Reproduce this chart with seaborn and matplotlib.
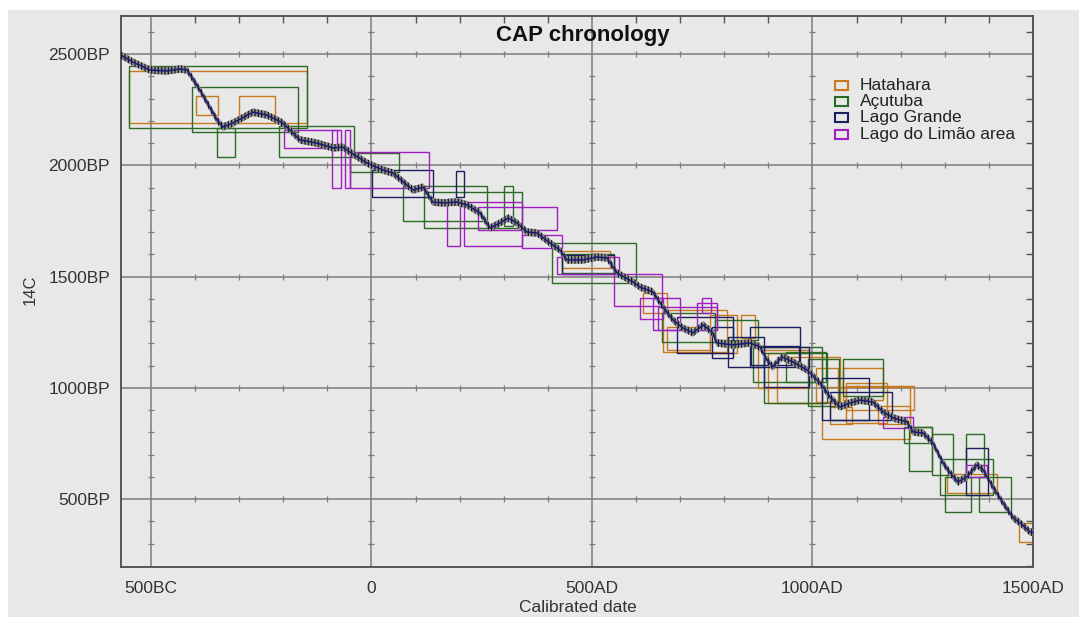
import matplotlib
matplotlib.use("Agg")
import matplotlib.pyplot as plt
from matplotlib.patches import Rectangle
from matplotlib.ticker import MultipleLocator
import numpy as np
import pandas as pd
import seaborn as sns

# ---------------- data ----------------
# calibration curve (calendar year, 14C BP)
curve_year = [-568, -541, -502, -464, -434, -418, -389, -350, -337, -314, -269, -237, -201,
              -162, -124, -87, -65, -49, -10, 26, 49, 80, 94, 117, 139, 162, 194, 217, 246,
              269, 291, 310, 330, 353, 375, 405, 427, 443, 480, 511, 534, 557, 593, 609, 638,
              661, 684, 706, 729, 752, 774, 783, 820, 858, 881, 897, 910, 931, 956, 988, 1017,
              1040, 1062, 1085, 1108, 1137, 1160, 1183, 1214, 1228, 1251, 1273, 1296, 1312,
              1330, 1350, 1373, 1387, 1409, 1432, 1455, 1471, 1493, 1500]
curve_bp = [2495, 2464, 2428, 2424, 2433, 2428, 2338, 2203, 2172, 2190, 2239, 2226, 2190,
            2114, 2100, 2078, 2082, 2060, 2010, 1979, 1965, 1912, 1889, 1902, 1835, 1831, 1835,
            1822, 1786, 1718, 1741, 1763, 1741, 1700, 1696, 1651, 1620, 1575, 1575, 1588, 1584,
            1516, 1476, 1453, 1431, 1363, 1305, 1269, 1247, 1283, 1247, 1202, 1193, 1202, 1184,
            1125, 1094, 1139, 1116, 1080, 1022, 959, 914, 932, 945, 936, 892, 865, 847, 802,
            797, 752, 663, 618, 577, 600, 654, 631, 555, 483, 416, 393, 353, 350]
curve_err = 17

# Hatahara boxes: calibrated range (start, end) x 14C range (low, high)
hat_start = [-549, -398, -300, 431, 616, 662, 669, 768, 839, 877, 919, 900, 1009, 1070, 1021,
             1077, 1040, 1149, 1077, 1304, 1469]
hat_end = [-147, -349, -218, 541, 669, 805, 768, 828, 870, 991, 1062, 1021, 1058, 1159, 1220,
           1168, 1089, 1220, 1230, 1419, 1500]
hat_low = [2189, 2226, 2226, 1537, 1335, 1163, 1170, 1155, 1223, 998, 931, 934, 938, 946, 769,
           841, 838, 838, 901, 527, 306]
hat_high = [2425, 2310, 2310, 1616, 1425, 1350, 1275, 1328, 1328, 1170, 1140, 1155, 1088, 1088,
            1003, 1021, 916, 919, 1008, 613, 394]

# Açutuba boxes
acu_start = [-549, -408, -350, -209, -49, 72, 120, 301, 410, 431, 658, 779, 866, 889, 940, 990,
             1070, 1208, 1219, 1270, 1348, 1289, 1301, 1378]
acu_end = [-147, -167, -309, -39, 62, 261, 342, 322, 599, 551, 779, 877, 1021, 1032, 1031, 1061,
           1159, 1270, 1270, 1318, 1389, 1409, 1359, 1449]
acu_low = [2169, 2148, 2039, 2039, 1971, 1750, 1717, 1727, 1470, 1516, 1208, 1215, 1028, 931,
           1028, 919, 964, 751, 627, 609, 601, 519, 440, 440]
acu_high = [2447, 2350, 2169, 2178, 2054, 1908, 1879, 1907, 1650, 1600, 1335, 1305, 1185, 1155,
            1163, 1128, 1128, 826, 826, 792, 792, 679, 601, 598]

# Lago Grande boxes
lgr_start = [2, 191, 431, 692, 771, 809, 858, 889, 861, 1021, 1040, 1348]
lgr_end = [140, 210, 551, 820, 820, 889, 972, 991, 970, 1127, 1180, 1399]
lgr_low = [1859, 1859, 1512, 1155, 1133, 1095, 1095, 1006, 1103, 856, 856, 519]
lgr_high = [1979, 1976, 1597, 1320, 1275, 1230, 1275, 1185, 1188, 1043, 983, 728]

# Lago do Limão area boxes
lim_start = [-198, -90, -59, -49, 171, 210, 241, 342, 420, 551, 609, 639, 650, 750, 737, 1159,
             1349]
lim_end = [-79, -69, -49, 130, 201, 342, 420, 431, 562, 659, 660, 700, 783, 770, 783, 1229, 1396]
lim_low = [2079, 1897, 1897, 1899, 1637, 1637, 1709, 1630, 1512, 1368, 1308, 1260, 1260, 1335,
           1260, 818, 601]
lim_high = [2159, 2159, 2159, 2058, 1849, 1837, 1814, 1687, 1590, 1512, 1405, 1405, 1365, 1405,
            1383, 871, 654]

site_names = ["Hatahara", "Açutuba", "Lago Grande", "Lago do Limão area"]
site_colors = ["#c8781e", "#2b6b25", "#1d2060", "#a01ec0"]

x_ticks = [-500, 0, 500, 1000, 1500]
x_labels = ["500BC", "0", "500AD", "1000AD", "1500AD"]
y_ticks = [500, 1000, 1500, 2000, 2500]
y_labels = ["500BP", "1000BP", "1500BP", "2000BP", "2500BP"]

# ---------------- style ----------------
sns.set_theme(style="white")
plt.rcParams['font.family'] = ['Liberation Sans', 'DejaVu Sans']
plt.rcParams['hatch.linewidth'] = 0.8
plt.rcParams['hatch.color'] = '#111111'

BG = "#e8e8e8"
GRID = "#7c7c7c"
W, H = 1079, 617

fig = plt.figure(figsize=(W / 100, H / 100), dpi=100, facecolor="white")
fig.patches.append(Rectangle((8 / W, 0), 1, 1 - 10 / H, transform=fig.transFigure,
                             facecolor=BG, edgecolor="none", zorder=-10))
ax = fig.add_axes([121 / W, 1 - 567 / H, 912 / W, 551 / H])
ax.set_facecolor(BG)
ax.set_xlim(-568, 1500)
ax.set_ylim(195, 2671)

# grid + ticks
ax.set_xticks(x_ticks)
ax.set_xticklabels(x_labels)
ax.set_yticks(y_ticks)
ax.set_yticklabels(y_labels)
ax.xaxis.set_minor_locator(MultipleLocator(100))
ax.yaxis.set_minor_locator(MultipleLocator(100))
ax.grid(True, which="major", color=GRID, lw=1.1, zorder=0)
ax.set_axisbelow(True)
ax.tick_params(which="both", direction="in", top=True, right=True, colors="#555555",
               labelcolor="#333333")
ax.tick_params(which="major", length=0, labelsize=12.5)
ax.tick_params(axis="x", which="major", pad=10)
ax.tick_params(axis="y", which="major", pad=8)
ax.tick_params(which="minor", length=5, width=1)
for s in ax.spines.values():
    s.set_color("#555555")
    s.set_linewidth(1.4)

# small cross ticks along the grid lines
minor_x = [v for v in range(-500, 1501, 100) if v % 500 != 0]
minor_y = [v for v in range(300, 2601, 100) if v % 500 != 0]
for yv in y_ticks:
    ax.plot(minor_x, [yv] * len(minor_x), ls="none", marker="|", ms=5, mew=0.9, color=GRID,
            zorder=0.5)
for xv in x_ticks:
    ax.plot([xv] * len(minor_y), minor_y, ls="none", marker="_", ms=5, mew=0.9, color=GRID,
            zorder=0.5)

# boxes
sites = [
    (hat_start, hat_end, hat_low, hat_high),
    (acu_start, acu_end, acu_low, acu_high),
    (lgr_start, lgr_end, lgr_low, lgr_high),
    (lim_start, lim_end, lim_low, lim_high),
]
for (st, en, lo, hi), col in zip(sites, site_colors):
    for a, b, c, d in zip(st, en, lo, hi):
        ax.add_patch(Rectangle((a, c), b - a, d - c, facecolor="none", edgecolor=col, lw=1.0,
                               zorder=2))

# calibration curve
cdf = pd.DataFrame({"year": curve_year, "bp": curve_bp})
yr = np.array(curve_year, dtype=float)
bp = np.array(curve_bp, dtype=float)
ax.fill_between(yr, bp - curve_err, bp + curve_err, facecolor="#8e8e8e", edgecolor="#111111",
                hatch="|||||", lw=0, zorder=3)
sns.lineplot(data=cdf, x="year", y="bp", color="#1a1a78", lw=1.1, ax=ax, zorder=4,
             sort=False, estimator=None)
ax.set_xlabel("")
ax.set_ylabel("")

# title
ax.text((583 - 121) / 912, (567 - 35) / 551, "CAP chronology", transform=ax.transAxes,
        ha="center", va="center", fontsize=16, fontweight="bold", color="#111111")

# legend
row_y = [(567 - 85.3) / 551, (567 - 101.7) / 551, (567 - 117.7) / 551, (567 - 134) / 551]
for name, col, yy in zip(site_names, site_colors, row_y):
    ax.add_patch(Rectangle(((835 - 121) / 912, yy - 4.5 / 551), 13 / 912, 9 / 551,
                           transform=ax.transAxes, facecolor="none", edgecolor=col, lw=1.5,
                           zorder=6))
    ax.text((860 - 121) / 912, yy, name, transform=ax.transAxes, ha="left", va="center",
            fontsize=12.5, color="#222222", zorder=6)

# axis labels
fig.text(578 / W, 1 - 607 / H, "Calibrated date", ha="center", va="center", fontsize=12.5,
         color="#333333")
fig.text(30 / W, 1 - 290 / H, "14C", ha="center", va="center", rotation=90, fontsize=12,
         color="#333333")

fig.savefig("out.png", dpi=100, facecolor=fig.get_facecolor())
